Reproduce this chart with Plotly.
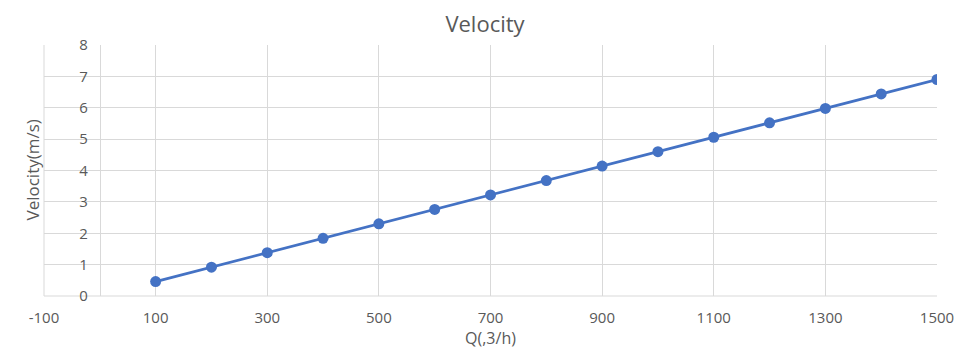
import plotly.graph_objects as go

flow_q = [100, 200, 300, 400, 500, 600, 700, 800, 900, 1000, 1100, 1200, 1300, 1400, 1500]
velocity = [0.46, 0.92, 1.38, 1.84, 2.30, 2.76, 3.22, 3.68, 4.14, 4.60, 5.06, 5.52, 5.98, 6.44, 6.90]
x_ticks = [-100, 100, 300, 500, 700, 900, 1100, 1300, 1500]
y_ticks = [0, 1, 2, 3, 4, 5, 6, 7, 8]

OFF = 8  # page body margin
W, H = 970 - OFF, 362 - OFF
L, R, T, B = 44 - OFF, 33, 45 - OFF, 66
x_min, x_max = -100, 1500

FONT = "Open Sans"
TXT = "#595959"
GRID = "#d9d9d9"

fig = go.Figure()
fig.add_trace(go.Scatter(
    x=flow_q, y=velocity, mode="lines+markers",
    line=dict(color="#4472C4", width=2.75),
    marker=dict(color="#4472C4", size=11),
    showlegend=False,
))

yaxis_pos = (0 - x_min) / (x_max - x_min)

fig.update_layout(
    width=W, height=H,
    margin=dict(l=L, r=R, t=T, b=B),
    paper_bgcolor="white", plot_bgcolor="white",
    font=dict(family=FONT, color=TXT, size=15),
    title=dict(text="Velocity", x=(485 - OFF) / W, xanchor="center", y=1 - (24 - OFF) / H, yanchor="middle",
               font=dict(size=22, color=TXT, family=FONT)),
    xaxis=dict(
        range=[x_min, x_max], tickvals=x_ticks, ticktext=[str(v) for v in x_ticks],
        showgrid=True, gridcolor=GRID, gridwidth=1,
        showline=False, zeroline=False,
        ticks="", ticklabelstandoff=11,
        tickfont=dict(size=15, color=TXT, family=FONT),
        title=dict(text="Q(,3/h)", font=dict(size=16, color=TXT, family=FONT), standoff=5),
    ),
    yaxis=dict(
        range=[0, 8], tickvals=y_ticks,
        showgrid=True, gridcolor=GRID, gridwidth=1,
        zeroline=False, showline=True, linecolor=GRID, linewidth=1,
        anchor="free", position=yaxis_pos,
        ticks="", ticklabelstandoff=9,
        tickfont=dict(size=15, color=TXT, family=FONT),
    ),
)

fig.add_shape(type="line", xref="paper", yref="paper", x0=0, x1=1, y0=0, y1=0,
              line=dict(color=GRID, width=1), layer="below")
fig.add_shape(type="line", xref="paper", yref="paper", x0=0, x1=0, y0=0, y1=1,
              line=dict(color=GRID, width=1), layer="below")

fig.add_annotation(text="Velocity(m/s)", xref="paper", yref="paper",
                   x=-(L - (32 - OFF)) / (W - L - R), y=0.5, showarrow=False, textangle=-90,
                   xanchor="center", yanchor="middle",
                   font=dict(size=17, color=TXT, family=FONT))

fig.write_html("out.html")
